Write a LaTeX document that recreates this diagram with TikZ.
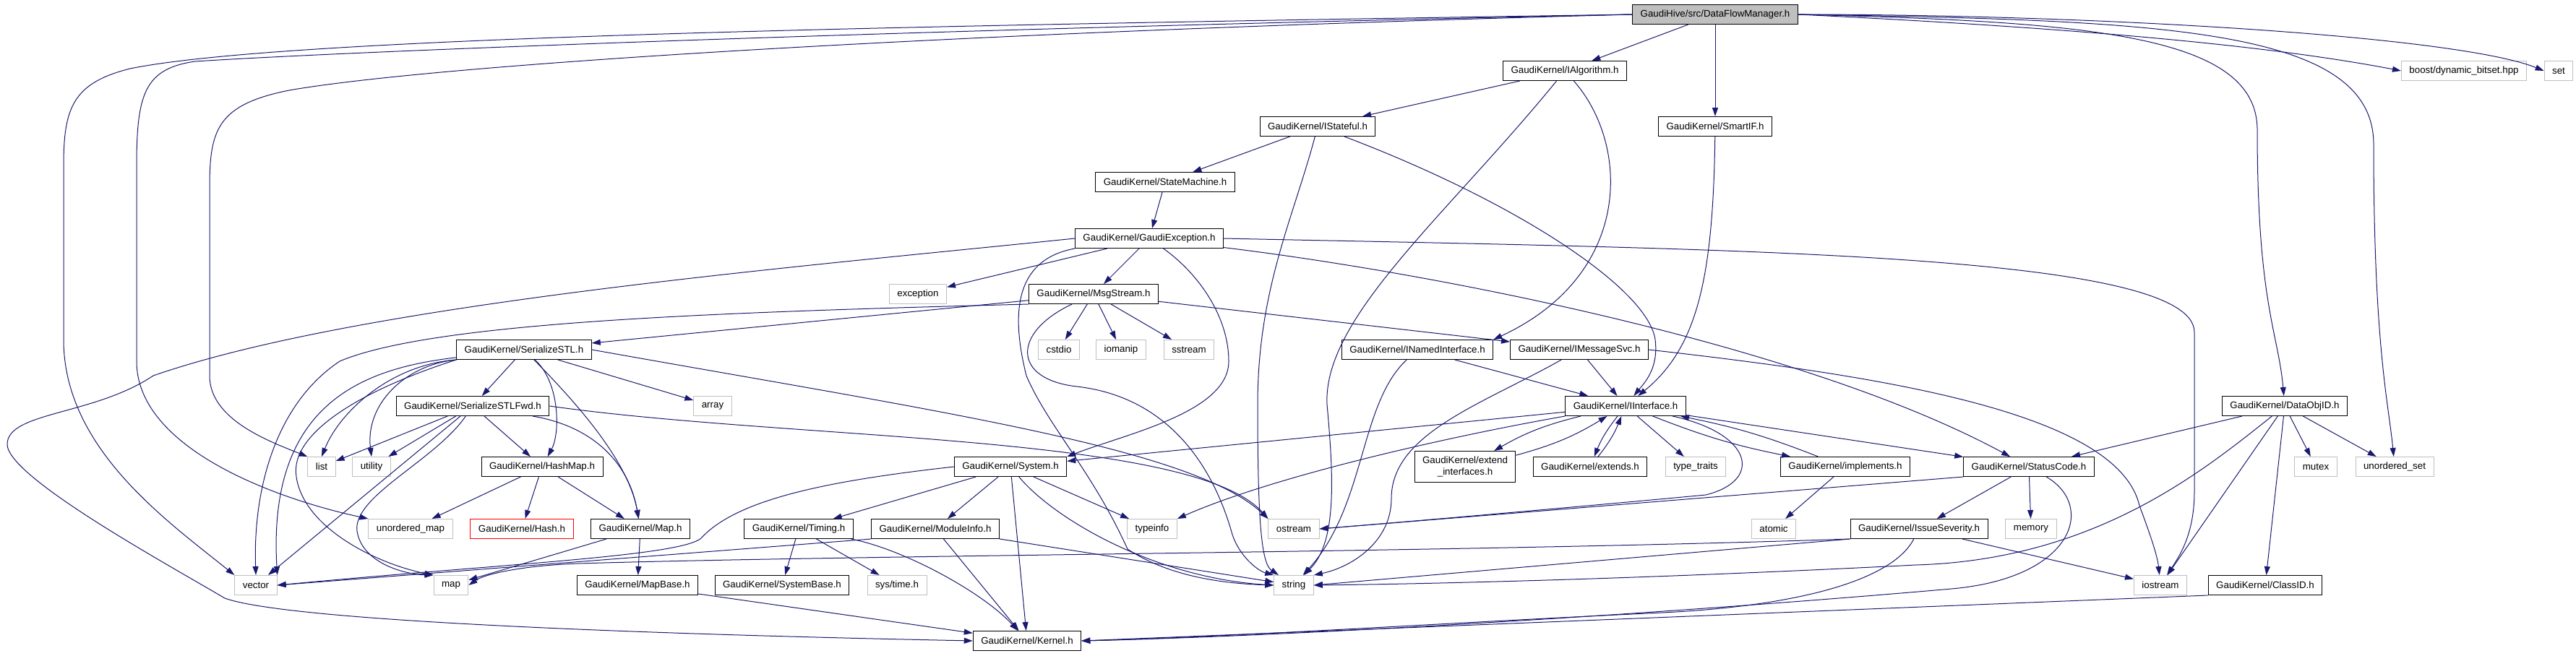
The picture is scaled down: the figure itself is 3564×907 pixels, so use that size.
\documentclass[tikz,border=0pt]{standalone}
\usepackage{fontspec}
\setmainfont{Liberation Sans}
\usetikzlibrary{arrows.meta}
\definecolor{depblue}{HTML}{191970}
\definecolor{sysgrey}{HTML}{BFBFBF}

\begin{document}
\begin{tikzpicture}[x=0.75pt, y=-0.75pt,
    hdr/.style={draw=black, line width=0.75pt, rectangle, inner xsep=8.25pt, inner ysep=0pt, minimum height=20.25pt, font=\fontsize{10}{11.5}\selectfont},
    syshdr/.style={hdr, draw=sysgrey},
    dep/.style={draw=depblue, line width=0.75pt, -{Triangle[length=9pt, width=6pt]}}]
            \useasboundingbox (0, 0) rectangle (3564, 907);

            % Project headers
            \node[hdr, fill=sysgrey] (DFM) at (2373, 20) {GaudiHive/src/DataFlowManager.h};
            \node[hdr] (IAlg) at (2165, 98) {GaudiKernel/IAlgorithm.h};
            \node[hdr] (IStateful) at (1823, 175) {GaudiKernel/IStateful.h};
            \node[hdr] (SmartIF) at (2373, 175) {GaudiKernel/SmartIF.h};
            \node[hdr] (StateMachine) at (1612, 252) {GaudiKernel/StateMachine.h};
            \node[hdr] (GE) at (1590, 330) {GaudiKernel/GaudiException.h};
            \node[hdr] (MsgStream) at (1513, 407) {GaudiKernel/MsgStream.h};
            \node[hdr] (SerializeSTL) at (725, 484) {GaudiKernel/SerializeSTL.h};
            \node[hdr] (INamedIf) at (1961, 484) {GaudiKernel/INamedInterface.h};
            \node[hdr] (IMessageSvc) at (2185, 484) {GaudiKernel/IMessageSvc.h};
            \node[hdr] (SerializeSTLFwd) at (654, 562) {GaudiKernel/SerializeSTLFwd.h};
            \node[hdr] (IInterface) at (2249, 562) {GaudiKernel/IInterface.h};
            \node[hdr] (DataObjID) at (3161, 562) {GaudiKernel/DataObjID.h};
            \node[hdr] (HashMap) at (750, 646) {GaudiKernel/HashMap.h};
            \node[hdr] (System) at (1398, 646) {GaudiKernel/System.h};
            \node[hdr, align=center, minimum height=32.25pt] (extendIf) at (2027, 646) {GaudiKernel/extend\\\_interfaces.h};
            \node[hdr] (extends) at (2200, 646) {GaudiKernel/extends.h};
            \node[hdr] (implements) at (2553, 646) {GaudiKernel/implements.h};
            \node[hdr] (StatusCode) at (2807, 646) {GaudiKernel/StatusCode.h};
            \node[hdr, draw=red] (Hash) at (722, 732) {GaudiKernel/Hash.h};
            \node[hdr] (Map) at (886, 732) {GaudiKernel/Map.h};
            \node[hdr] (Timing) at (1105, 732) {GaudiKernel/Timing.h};
            \node[hdr] (ModuleInfo) at (1294, 732) {GaudiKernel/ModuleInfo.h};
            \node[hdr] (IssueSeverity) at (2655, 732) {GaudiKernel/IssueSeverity.h};
            \node[hdr] (MapBase) at (882, 810) {GaudiKernel/MapBase.h};
            \node[hdr] (SystemBase) at (1082, 810) {GaudiKernel/SystemBase.h};
            \node[hdr] (ClassID) at (3134, 810) {GaudiKernel/ClassID.h};
            \node[hdr] (Kernel) at (1421, 887) {GaudiKernel/Kernel.h};

            % System headers
            \node[syshdr] (boost) at (3409, 98) {boost/dynamic\_bitset.hpp};
            \node[syshdr] (set) at (3540, 98) {set};
            \node[syshdr] (exception) at (1270, 407) {exception};
            \node[syshdr] (cstdio) at (1465, 484) {cstdio};
            \node[syshdr] (iomanip) at (1551, 484) {iomanip};
            \node[syshdr] (sstream) at (1645, 484) {sstream};
            \node[syshdr] (array) at (986, 562) {array};
            \node[syshdr] (list) at (445, 646) {list};
            \node[syshdr] (utility) at (514, 646) {utility};
            \node[syshdr] (typetraits) at (2346, 646) {type\_traits};
            \node[syshdr] (mutex) at (3204, 646) {mutex};
            \node[syshdr] (uset) at (3313, 646) {unordered\_set};
            \node[syshdr] (umap) at (568, 732) {unordered\_map};
            \node[syshdr] (typeinfo) at (1594, 732) {typeinfo};
            \node[syshdr] (ostream) at (1790, 732) {ostream};
            \node[syshdr] (atomic) at (2454, 732) {atomic};
            \node[syshdr] (memory) at (2810, 732) {memory};
            \node[syshdr] (vector) at (354, 810) {vector};
            \node[syshdr] (map) at (624, 810) {map};
            \node[syshdr] (systime) at (1241, 810) {sys/time.h};
            \node[syshdr] (string) at (1790, 810) {string};
            \node[syshdr] (iostream) at (2989, 810) {iostream};

            % DataFlowManager.h
            \draw [dep] (DFM) -- (IAlg);
            \draw [dep] (DFM) -- (SmartIF);
            \draw [dep] (DFM.east) .. controls (2900, 40) and (3150, 65) .. (boost.west);
            \draw [dep] (DFM.east) .. controls (2900, 20) and (3400, 50) .. (set.west);
            \draw [dep] (DFM.east) .. controls (2900, 30) and (3123, 50) .. (3123, 180) .. controls (3123, 420) and (3152, 460) .. (DataObjID);
            \draw [dep] (DFM.east) .. controls (3000, 28) and (3284, 40) .. (3284, 200) .. controls (3284, 480) and (3305, 560) .. (uset);
            \draw [dep] (DFM.west) .. controls (1300, 35) and (400, 50) .. (180, 95) .. controls (100, 115) and (88, 150) .. (88, 230) -- (88, 470) .. controls (88, 620) and (230, 720) .. (vector.north west);
            \draw [dep] (DFM.west) .. controls (1300, 40) and (500, 70) .. (270, 85) .. controls (200, 95) and (189, 130) .. (189, 230) -- (189, 500) .. controls (189, 620) and (380, 690) .. (umap.north west);
            \draw [dep] (DFM.west) .. controls (1300, 45) and (600, 90) .. (400, 125) .. controls (300, 145) and (290, 180) .. (290, 260) -- (290, 520) .. controls (290, 580) and (370, 610) .. (list.north west);

            % IAlgorithm.h, IStateful.h, SmartIF.h
            \draw [dep] (IAlg) -- (IStateful);
            \draw [dep] (IAlg) .. controls (2255, 200) and (2260, 380) .. (INamedIf.north east);
            \draw [dep] (IAlg) .. controls (2000, 300) and (1830, 440) .. (1836, 560) .. controls (1845, 660) and (1850, 750) .. (string);
            \draw [dep] (IStateful) -- (StateMachine);
            \draw [dep] (IStateful) .. controls (2100, 280) and (2280, 400) .. (2290, 470) .. controls (2295, 510) and (2275, 530) .. (IInterface);
            \draw [dep] (IStateful) .. controls (1790, 300) and (1740, 400) .. (1740, 560) .. controls (1740, 720) and (1745, 780) .. (string);
            \draw [dep] (SmartIF) .. controls (2370, 380) and (2350, 480) .. (IInterface);
            \draw [dep] (StateMachine) -- (GE);

            % GaudiException.h
            \draw [dep] (GE) -- (exception);
            \draw [dep] (GE) -- (MsgStream);
            \draw [dep] (GE) .. controls (1660, 380) and (1700, 440) .. (1700, 500) .. controls (1700, 570) and (1560, 600) .. (System.north east);
            \draw [dep] (GE) .. controls (2000, 380) and (2500, 480) .. (StatusCode);
            \draw [dep] (GE.east) .. controls (2400, 345) and (3036, 350) .. (3036, 460) -- (3036, 680) .. controls (3036, 740) and (3015, 770) .. (iostream);
            \draw [dep] (GE.south west) .. controls (1400, 360) and (1400, 440) .. (1420, 520) .. controls (1450, 590) and (1510, 650) .. (1560, 760) .. controls (1620, 800) and (1700, 808) .. (string.west);
            \draw [dep] (GE.west) .. controls (1100, 370) and (500, 420) .. (212, 520) .. controls (130, 575) and (10, 570) .. (10, 615) .. controls (10, 660) and (230, 780) .. (311, 828) .. controls (400, 860) and (900, 878) .. (Kernel.west);

            % MsgStream.h
            \draw [dep] (MsgStream) -- (cstdio);
            \draw [dep] (MsgStream) -- (iomanip);
            \draw [dep] (MsgStream) -- (sstream);
            \draw [dep] (MsgStream) -- (IMessageSvc);
            \draw [dep] (MsgStream) -- (SerializeSTL);
            \draw [dep] (MsgStream.south west) .. controls (1000, 432) and (600, 445) .. (470, 500) .. controls (380, 560) and (350, 680) .. (vector.north);
            \draw [dep] (MsgStream) .. controls (1400, 460) and (1400, 525) .. (1490, 535) .. controls (1620, 550) and (1680, 650) .. (1705, 740) .. controls (1715, 770) and (1740, 790) .. (string.north west);

            % SerializeSTL.h, SerializeSTLFwd.h
            \draw [dep] (SerializeSTL) -- (SerializeSTLFwd);
            \draw [dep] (SerializeSTL) -- (array);
            \draw [dep] (SerializeSTL) .. controls (775, 530) and (775, 600) .. (HashMap);
            \draw [dep] (SerializeSTL) .. controls (800, 560) and (870, 640) .. (Map);
            \draw [dep] (SerializeSTL.south west) .. controls (540, 505) and (470, 570) .. (list.north);
            \draw [dep] (SerializeSTL.south west) .. controls (560, 505) and (505, 560) .. (utility.north);
            \draw [dep] (SerializeSTL) .. controls (500, 510) and (370, 560) .. (vector.north east);
            \draw [dep] (SerializeSTL.south west) .. controls (500, 540) and (400, 600) .. (410, 660) .. controls (420, 730) and (520, 780) .. (map.north west);
            \draw [dep] (SerializeSTL.east) .. controls (1300, 570) and (1650, 620) .. (ostream.north west);
            \draw [dep] (SerializeSTLFwd) -- (list);
            \draw [dep] (SerializeSTLFwd) -- (utility);
            \draw [dep] (SerializeSTLFwd) -- (vector);
            \draw [dep] (SerializeSTLFwd) -- (HashMap);
            \draw [dep] (SerializeSTLFwd) .. controls (600, 640) and (480, 690) .. (495, 740) .. controls (505, 780) and (560, 795) .. (map.north west);
            \draw [dep] (SerializeSTLFwd) .. controls (820, 590) and (870, 640) .. (Map);
            \draw [dep] (SerializeSTLFwd.east) .. controls (1100, 610) and (1650, 600) .. (ostream.north west);

            % HashMap.h, Map.h, MapBase.h
            \draw [dep] (HashMap) -- (umap);
            \draw [dep] (HashMap) -- (Hash);
            \draw [dep] (HashMap) -- (Map);
            \draw [dep] (Map) -- (MapBase);
            \draw [dep] (Map) -- (map);
            \draw [dep] (MapBase) -- (Kernel);

            % System.h, Timing.h, ModuleInfo.h
            \draw [dep] (System) -- (Timing);
            \draw [dep] (System) -- (ModuleInfo);
            \draw [dep] (System) -- (Kernel);
            \draw [dep] (System) -- (typeinfo);
            \draw [dep] (System) .. controls (1460, 720) and (1600, 800) .. (string.west);
            \draw [dep] (System.west) .. controls (1150, 665) and (1020, 690) .. (970, 745) .. controls (940, 770) and (700, 780) .. (vector.east);
            \draw [dep] (Timing) -- (SystemBase);
            \draw [dep] (Timing) -- (systime);
            \draw [dep] (Timing) .. controls (1250, 760) and (1360, 820) .. (Kernel);
            \draw [dep] (ModuleInfo) -- (Kernel);
            \draw [dep] (ModuleInfo) -- (string);
            \draw [dep] (ModuleInfo.south west) -- (vector.east);

            % INamedInterface.h, IMessageSvc.h
            \draw [dep] (INamedIf) -- (IInterface);
            \draw [dep] (INamedIf) .. controls (1880, 560) and (1890, 700) .. (string);
            \draw [dep] (IMessageSvc) -- (IInterface);
            \draw [dep] (IMessageSvc) .. controls (2050, 560) and (1925, 600) .. (1925, 690) .. controls (1925, 750) and (1870, 785) .. (string.north east);
            \draw [dep] (IMessageSvc.east) .. controls (2600, 520) and (2930, 570) .. (2960, 700) .. controls (2975, 740) and (2985, 770) .. (iostream);

            % IInterface.h
            \draw [dep] (IInterface) to[bend right=8] (extendIf);
            \draw [dep] (extendIf) to[bend right=8] (IInterface);
            \draw [dep] (IInterface) to[bend right=8] (extends);
            \draw [dep] (extends) to[bend right=8] (IInterface);
            \draw [dep] (IInterface) -- (typetraits);
            \draw [dep] (IInterface) to[bend right=5] (implements);
            \draw [dep] (implements) to[bend right=5] (IInterface);
            \draw [dep] (IInterface) -- (StatusCode);
            \draw [dep] (IInterface) -- (System);
            \draw [dep] (IInterface.south west) .. controls (2000, 605) and (1760, 660) .. (typeinfo.north east);
            \draw [dep] (IInterface) .. controls (2425, 600) and (2440, 665) .. (2360, 685) .. controls (2200, 700) and (1950, 722) .. (ostream.east);
            \draw [dep] (implements) -- (atomic);

            % StatusCode.h, IssueSeverity.h
            \draw [dep] (StatusCode) -- (IssueSeverity);
            \draw [dep] (StatusCode) -- (memory);
            \draw [dep] (StatusCode.south west) -- (ostream.east);
            \draw [dep] (StatusCode) .. controls (2900, 700) and (2870, 800) .. (2700, 815) .. controls (2300, 850) and (1800, 880) .. (Kernel.east);
            \draw [dep] (IssueSeverity) -- (iostream);
            \draw [dep] (IssueSeverity.south west) -- (string.east);
            \draw [dep] (IssueSeverity.south west) .. controls (2000, 765) and (1200, 768) .. (800, 780) .. controls (720, 783) and (670, 795) .. (map.east);
            \draw [dep] (IssueSeverity) .. controls (2620, 800) and (2500, 838) .. (2300, 848) .. controls (2000, 862) and (1700, 882) .. (Kernel.east);

            % DataObjID.h, ClassID.h
            \draw [dep] (DataObjID) -- (StatusCode);
            \draw [dep] (DataObjID) -- (iostream);
            \draw [dep] (DataObjID) -- (ClassID);
            \draw [dep] (DataObjID) -- (mutex);
            \draw [dep] (DataObjID) -- (uset);
            \draw [dep] (DataObjID) .. controls (3050, 650) and (2900, 775) .. (2650, 782) .. controls (2300, 800) and (2000, 808) .. (string.east);
            \draw [dep] (ClassID.south west) -- (Kernel.east);
        \end{tikzpicture}
\end{document}
